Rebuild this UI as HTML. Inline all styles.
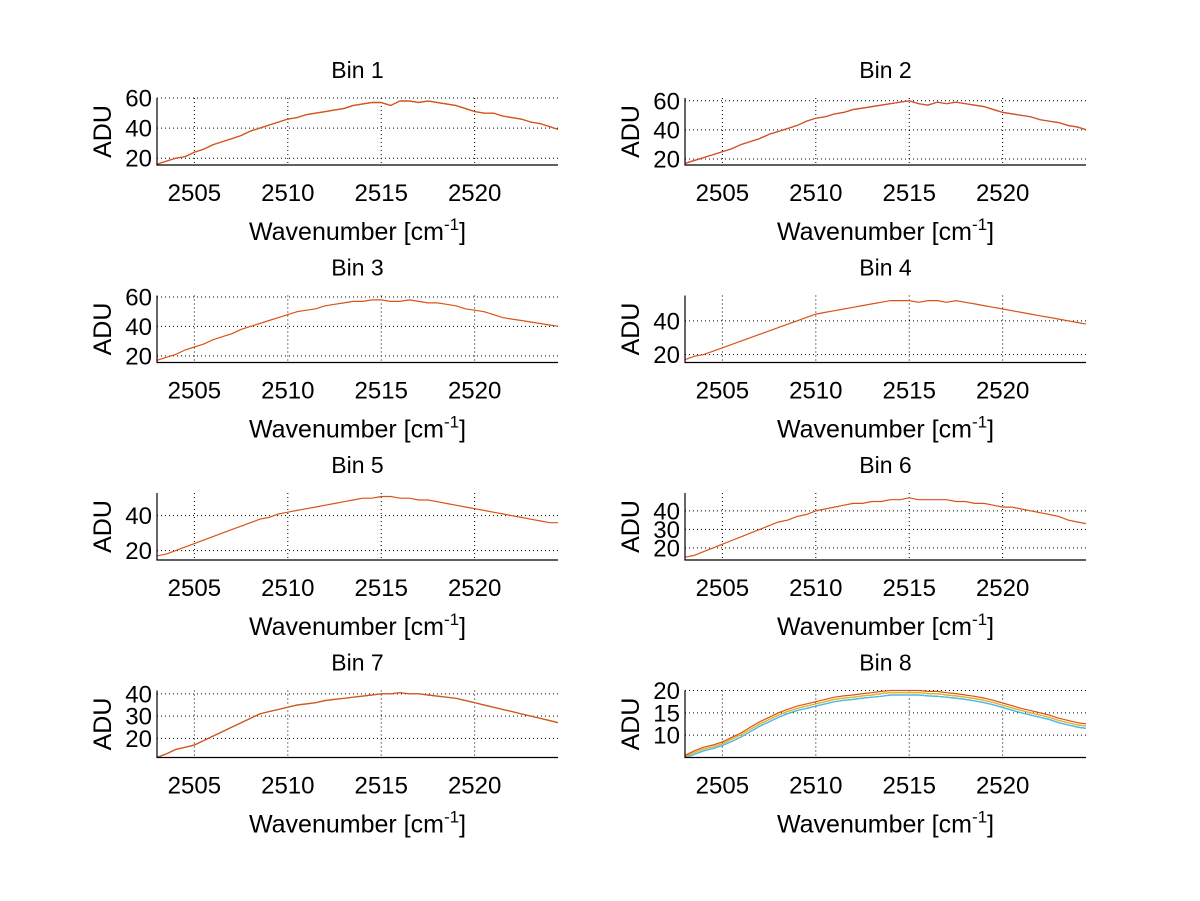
<!DOCTYPE html>
<html><head><meta charset="utf-8"><style>
body{margin:0;background:#fff}
svg{display:block;font-family:"Liberation Sans",sans-serif}
</style></head><body>
<svg id="fig" width="1200" height="901" viewBox="0 0 1200 901" xmlns="http://www.w3.org/2000/svg">
<rect width="1200" height="901" fill="#fff"/>
</svg>
<script>
const xStart = 2503, xStep = 0.5;
const xTicks = [2505, 2510, 2515, 2520];
const xLim = [2503, 2524.46];
const bin1 = [16,18,20,21,24,26,29,31,33,35,38,40,42,44,46,47,49,50,51,52,53,55,56,57,57,55,58,58,57,58,57,56,55,53,51,50,50,48,47,46,44,43,41,39];
const bin2 = [17,19,21,23,25,27,30,32,34,37,39,41,43,46,48,49,51,52,54,55,56,57,58,59,60,58,57,59,58,59,58,57,56,54,52,51,50,49,47,46,45,43,42,40];
const bin3 = [17,19,21,24,26,28,31,33,35,38,40,42,44,46,48,50,51,52,54,55,56,57,57,58,58,57,57,58,57,56,56,55,54,52,51,50,48,46,45,44,43,42,41,40];
const bin4 = [17,19,20,22,24,26,28,30,32,34,36,38,40,42,44,45,46,47,48,49,50,51,52,52,52,51,52,52,51,52,51,50,49,48,47,46,45,44,43,42,41,40,39,38];
const bin5 = [17,18,20,22,24,26,28,30,32,34,36,38,39,41,42,43,44,45,46,47,48,49,50,50,51,51,50,50,49,49,48,47,46,45,44,43,42,41,40,39,38,37,36,36];
const bin6 = [15,16,18,20,22,24,26,28,30,32,34,35,37,38,40,41,42,43,44,44,45,45,46,46,47,46,46,46,46,45,45,44,44,43,42,42,41,40,39,38,37,35,34,33];
const bin7 = [11.5,13,15,16,17,19,21,23,25,27,29,31,32,33,34,35,35.5,36,37,37.5,38,38.5,39,39.5,40,40,40.5,40,40,39.5,39,38.5,38,37,36,35,34,33,32,31,30,29,28,27];
const bin8Red = [5.5,6.5,7.3,7.8,8.5,9.5,10.5,11.8,13,14,15,15.8,16.5,17,17.5,18,18.5,18.8,19,19.3,19.5,19.8,20,20,20,20,19.8,19.8,19.5,19.3,19,18.7,18.3,17.8,17.2,16.6,16,15.5,15,14.5,13.8,13.3,12.8,12.5];
const bin8Yellow = [5.3,6.1,6.9,7.4,8.1,9.1,10.1,11.3,12.5,13.5,14.5,15.3,16,16.5,17,17.5,18,18.3,18.5,18.8,19,19.3,19.5,19.5,19.5,19.5,19.3,19.3,19,18.8,18.5,18.2,17.8,17.3,16.7,16.1,15.5,15,14.5,14,13.3,12.8,12.3,12];
const bin8Blue = [5,5.7,6.5,7,7.7,8.6,9.6,10.8,12,13,14,14.8,15.5,16,16.5,17,17.5,17.8,18,18.3,18.5,18.7,19,19,19,19,18.8,18.7,18.5,18.3,18,17.7,17.3,16.8,16.2,15.6,15,14.5,14,13.5,12.8,12.3,11.8,11.5];
const titles = ["Bin 1","Bin 2","Bin 3","Bin 4","Bin 5","Bin 6","Bin 7","Bin 8"];
const yLims = [[15.5,60],[15.9,61.9],[15.5,61],[15.3,55],[14.6,53],[13.5,49.6],[11.4,41.5],[5,20]];
const yTicks = [[20,40,60],[20,40,60],[20,40,60],[20,40],[20,40],[20,30,40],[20,30,40],[10,15,20]];

const NS = "http://www.w3.org/2000/svg";
const svg = document.getElementById("fig");
function mk(tag, attrs, parent){const e=document.createElementNS(NS,tag);for(const k in attrs)e.setAttribute(k,attrs[k]);(parent||svg).appendChild(e);return e;}

const panels = [
 {series:[[bin1,"#7E2F8E"],[bin1,"#EDB120"],[bin1,"#D95319"]]},
 {series:[[bin2,"#7E2F8E"],[bin2,"#D95319"]]},
 {series:[[bin3,"#D95319"]]},
 {series:[[bin4,"#D95319"]]},
 {series:[[bin5,"#D95319"]]},
 {series:[[bin6,"#D95319"]]},
 {series:[[bin7,"#0072BD"],[bin7,"#EDB120"],[bin7,"#D95319"]]},
 {series:[[bin8Blue,"#0072BD"],[bin8Blue,"#4DBEEE"],[bin8Yellow,"#77AC30"],[bin8Yellow,"#EDB120"],[bin8Red,"#D95319"]]}
];
const lefts=[157,685], W=401, H=67, tops=[98,295.5,493,690.5];

panels.forEach((p,i)=>{
  const L=lefts[i%2], T=tops[Math.floor(i/2)], B=T+H, R=L+W;
  const g=mk("g",{});
  
  
  const [y0,y1]=yLims[i];
  const sx=v=>L+(v-xLim[0])/(xLim[1]-xLim[0])*W;
  const sy=v=>B-(v-y0)/(y1-y0)*H;
  xTicks.forEach(t=>{
    const l=mk("line",{x1:sx(t),x2:sx(t),y1:T,y2:B,stroke:"#000","stroke-width":1,"stroke-dasharray":"1,3"},g);
    
    
    const tx=mk("text",{x:sx(t),y:B+36,"font-size":24,"text-anchor":"middle",fill:"#000"},g);
    tx.textContent=t;
    
    
  });
  yTicks[i].forEach(t=>{
    const l=mk("line",{x1:L,x2:R,y1:sy(t),y2:sy(t),stroke:"#000","stroke-width":1,"stroke-dasharray":"1,3"},g);
    
    
    const tx=mk("text",{x:L-5,y:sy(t)+8.5,"font-size":24,"text-anchor":"end",fill:"#000"},g);
    tx.textContent=t;
    
    
  });
  const clipId="c"+i;
  const cp=mk("clipPath",{id:clipId},g);mk("rect",{x:L,y:T-2,width:W,height:H+2},cp);
  p.series.forEach(([arr,col])=>{
    const pts=arr.map((v,k)=>sx(xStart+k*xStep).toFixed(1)+","+sy(v).toFixed(1)).join(" ");
    const pl=mk("polyline",{points:pts,fill:"none",stroke:col,"stroke-width":1.2,"clip-path":"url(#"+clipId+")"},g);
    
    
  });
  const ax=mk("path",{d:`M${L} ${T}V${B}H${R}`,fill:"none",stroke:"#000","stroke-width":1.2},g);
  
  
  const ti=mk("text",{x:L+W/2,y:T-20,"font-size":23,"text-anchor":"middle",fill:"#000"},g);
  ti.textContent=titles[i];
  
  
  const xl=mk("text",{x:L+W/2,y:B+75,"font-size":25,"text-anchor":"middle",fill:"#000"},g);
  xl.innerHTML='Wavenumber [cm<tspan dy="-10" font-size="17">-1</tspan><tspan dy="10">]</tspan>';
  
  
  const cy=T+H/2, cx=L-46;
  const yl=mk("text",{x:cx,y:cy,"font-size":25,"text-anchor":"middle",fill:"#000",transform:`rotate(-90 ${cx} ${cy})`},g);
  yl.textContent="ADU";
  
  
});
</script>
</body></html>
